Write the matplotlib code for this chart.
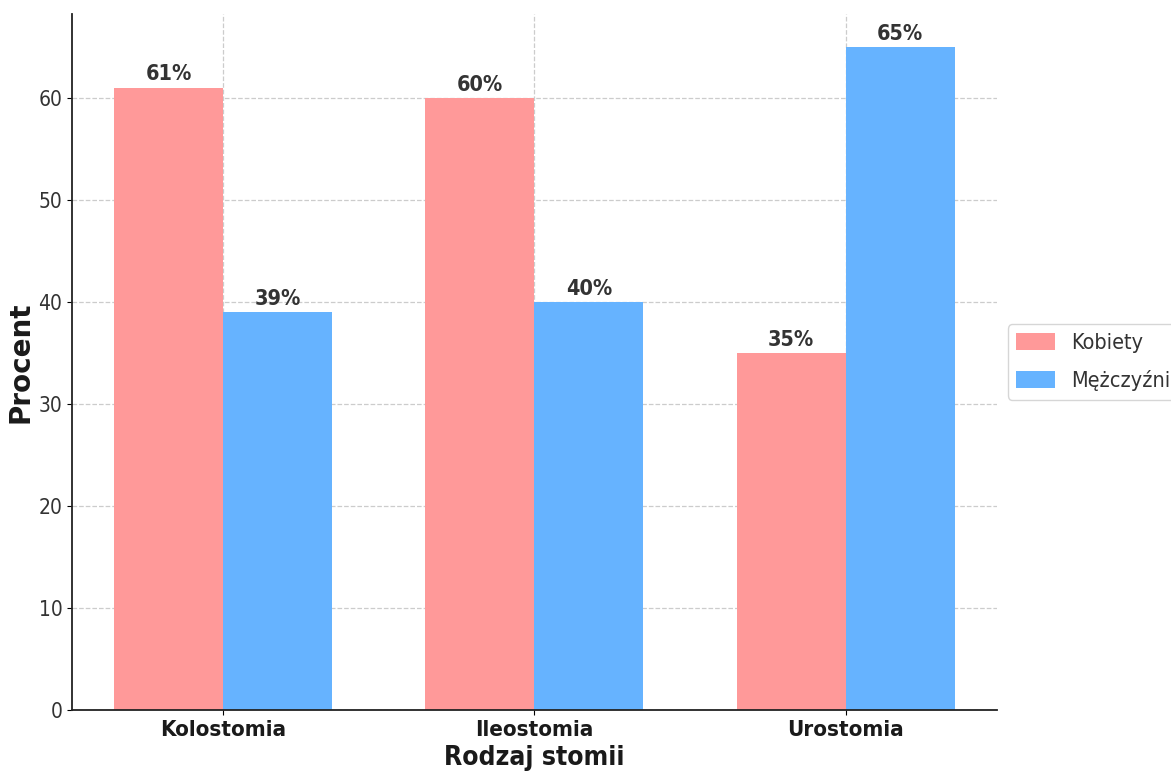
import numpy as np
import matplotlib
matplotlib.use("Agg")
import matplotlib.pyplot as plt

# Data
categories = ["Kolostomia", "Ileostomia", "Urostomia"]
series_names = ["Kobiety", "Mężczyźni"]
kobiety = [61, 60, 35]
mezczyzni = [39, 40, 65]

colors = ["#ff9999", "#66b3ff"]

plt.rcParams["font.family"] = "DejaVu Sans"
plt.rcParams["font.stretch"] = "condensed"

fig = plt.figure(figsize=(11.71, 7.76), dpi=100)
ax = fig.add_axes([0.0615, 0.085, 0.7897, 0.897])

x = np.arange(len(categories))
width = 0.35

bars1 = ax.bar(x - width / 2, kobiety, width, color=colors[0], label=series_names[0], zorder=2)
bars2 = ax.bar(x + width / 2, mezczyzni, width, color=colors[1], label=series_names[1], zorder=2)

for bars in (bars1, bars2):
    for b in bars:
        h = b.get_height()
        ax.annotate(f"{h:.0f}%", xy=(b.get_x() + b.get_width() / 2, h),
                    xytext=(0, 2.5), textcoords="offset points",
                    ha="center", va="bottom", fontsize=15.5, fontweight="bold",
                    color="#333333", zorder=3)

ax.set_xticks(x)
ax.set_xticklabels(categories, fontsize=16, fontweight="bold", color="#1a1a1a")
ax.tick_params(axis="y", labelsize=15, labelcolor="#333333")
ax.tick_params(axis="x", pad=4)
ax.set_xlabel("Rodzaj stomii", fontsize=19, fontweight="bold", color="#1a1a1a", labelpad=3)
ax.set_ylabel("Procent", fontsize=20, fontweight="bold", color="#1a1a1a",
              fontstretch="normal", labelpad=3)

ax.set_ylim(0, max(max(kobiety), max(mezczyzni)) * 1.05)
ax.grid(True, linestyle="--", color="#cccccc", linewidth=0.9, zorder=0)
ax.set_axisbelow(True)
for side in ("top", "right"):
    ax.spines[side].set_visible(False)
for side in ("left", "bottom"):
    ax.spines[side].set_color("#222222")
    ax.spines[side].set_linewidth(1.3)

leg = ax.legend(loc="center left", bbox_to_anchor=(1.0, 0.5), fontsize=15.5, frameon=True,
                edgecolor="#cccccc", handleheight=0.8, handlelength=1.8,
                handletextpad=0.75, labelspacing=0.8)
for t in leg.get_texts():
    t.set_color("#333333")

fig.savefig("out.png", dpi=100)
